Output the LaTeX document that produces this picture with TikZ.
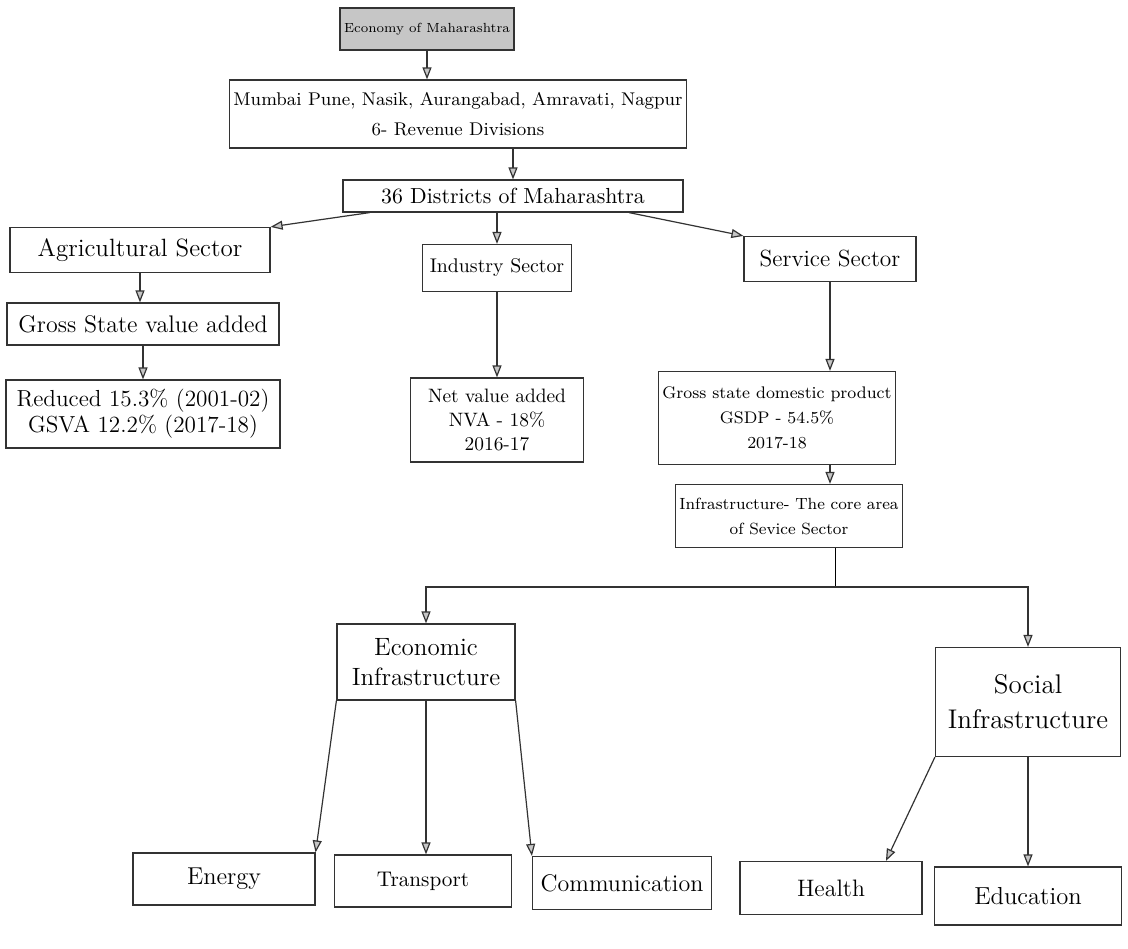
\documentclass[tikz,border=0pt]{standalone}
\usetikzlibrary{arrows.meta,calc}
\newcommand\fsz[2]{\fontsize{#1}{#2}\selectfont}
\begin{document}
\begin{tikzpicture}[x=0.5pt,y=-0.5pt,
  box/.style={draw=black!80,line width=0.6pt,align=center,inner sep=2pt,
    font=\fsz{9.2}{12.5}},
  arr/.style={draw=black!80,line width=0.6pt,
    -{Triangle[length=6pt,width=4.5pt,fill=gray!45]}}]
\useasboundingbox (0,0) rectangle (1128,948);
\node[box,fill=gray!45,minimum width=85pt,minimum height=21pt,font=\fsz{6.6}{8}] (eco) at (427,29) {Economy of Maharashtra};
\node[box,minimum width=228pt,minimum height=34pt,font=\fsz{9.2}{15}] (div) at (458,114) {Mumbai Pune, Nasik, Aurangabad, Amravati, Nagpur\\6- Revenue Divisions};
\node[box,minimum width=170pt,minimum height=16pt,font=\fsz{10.9}{13}] (dist) at (513,196) {36 Districts of Maharashtra};
\node[box,minimum width=130pt,minimum height=22.5pt,font=\fsz{12.5}{15}] (agri) at (140,250) {Agricultural Sector};
\node[box,minimum width=74.5pt,minimum height=23.5pt,font=\fsz{9.9}{12}] (ind) at (497,268) {Industry Sector};
\node[box,minimum width=86pt,minimum height=22.5pt,font=\fsz{11.7}{14}] (serv) at (830,259) {Service Sector};
\node[box,minimum width=136pt,minimum height=21pt,font=\fsz{12}{14}] (gsva) at (143,324) {Gross State value added};
\node[box,minimum width=137pt,minimum height=34pt,font=\fsz{11.6}{13}] (red) at (143,414) {Reduced 15.3\% (2001-02)\\GSVA 12.2\% (2017-18)};
\node[box,minimum width=86.5pt,minimum height=42pt,font=\fsz{9.7}{12}] (nva) at (497,420) {Net value added\\NVA - 18\%\\2016-17};
\node[box,minimum width=115pt,minimum height=46.5pt,font=\fsz{8.4}{12.5}] (gsdp) at (777,418) {Gross state domestic product\\GSDP - 54.5\%\\2017-18};
\node[box,minimum width=108.5pt,minimum height=31.5pt,font=\fsz{8.1}{12.5}] (infra) at (789,516) {Infrastructure- The core area\\of Sevice Sector};
\node[box,minimum width=89pt,minimum height=38pt,font=\fsz{12.5}{15}] (econ) at (426,662) {Economic\\Infrastructure};
\node[box,minimum width=92.5pt,minimum height=54.5pt,font=\fsz{13.5}{17.5}] (soc) at (1028,702) {Social\\Infrastructure};
\node[box,minimum width=91pt,minimum height=26pt,font=\fsz{12.2}{14}] (ener) at (224,879) {Energy};
\node[box,minimum width=88.5pt,minimum height=26pt,font=\fsz{10.6}{13}] (trans) at (423,881) {Transport};
\node[box,minimum width=89.5pt,minimum height=26.5pt,font=\fsz{12}{14}] (comm) at (622,883) {Communication};
\node[box,minimum width=91pt,minimum height=26.5pt,font=\fsz{11.9}{14}] (heal) at (831,888) {Health};
\node[box,minimum width=93.5pt,minimum height=29pt,font=\fsz{12.3}{14}] (edu) at (1028,896) {Education};
\coordinate (trunk) at (835,587);
\draw[arr] (eco.south) -- (eco.south |- div.north);
\draw[arr] (dist.north |- div.south) -- (dist.north);
\draw[arr] ($(dist.south west)!0.08!(dist.south east)$) -- (agri.north east);
\draw[arr] (ind.north |- dist.south) -- (ind.north);
\draw[arr] ($(dist.south west)!0.84!(dist.south east)$) -- (serv.north west);
\draw[arr] (agri.south) -- (agri.south |- gsva.north);
\draw[arr] (gsva.south) -- (gsva.south |- red.north);
\draw[arr] (ind.south) -- (nva.north);
\draw[arr] (serv.south) -- (serv.south |- gsdp.north);
\draw[arr] (gsdp.south -| serv.south) -- (infra.north -| serv.south);
\draw (infra.south -| trunk) -- (trunk);
\draw[arr] (trunk) -| (econ.north);
\draw[arr] (trunk) -| (soc.north);
\draw[arr] (econ.south west) -- (ener.north east);
\draw[arr] (econ.south) -- (econ.south |- trans.north);
\draw[arr] (econ.south east) -- (comm.north west);
\draw[arr] (soc.south west) -- ($(heal.north east)!0.2!(heal.north west)$);
\draw[arr] (soc.south) -- (soc.south |- edu.north);
\end{tikzpicture}
\end{document}
